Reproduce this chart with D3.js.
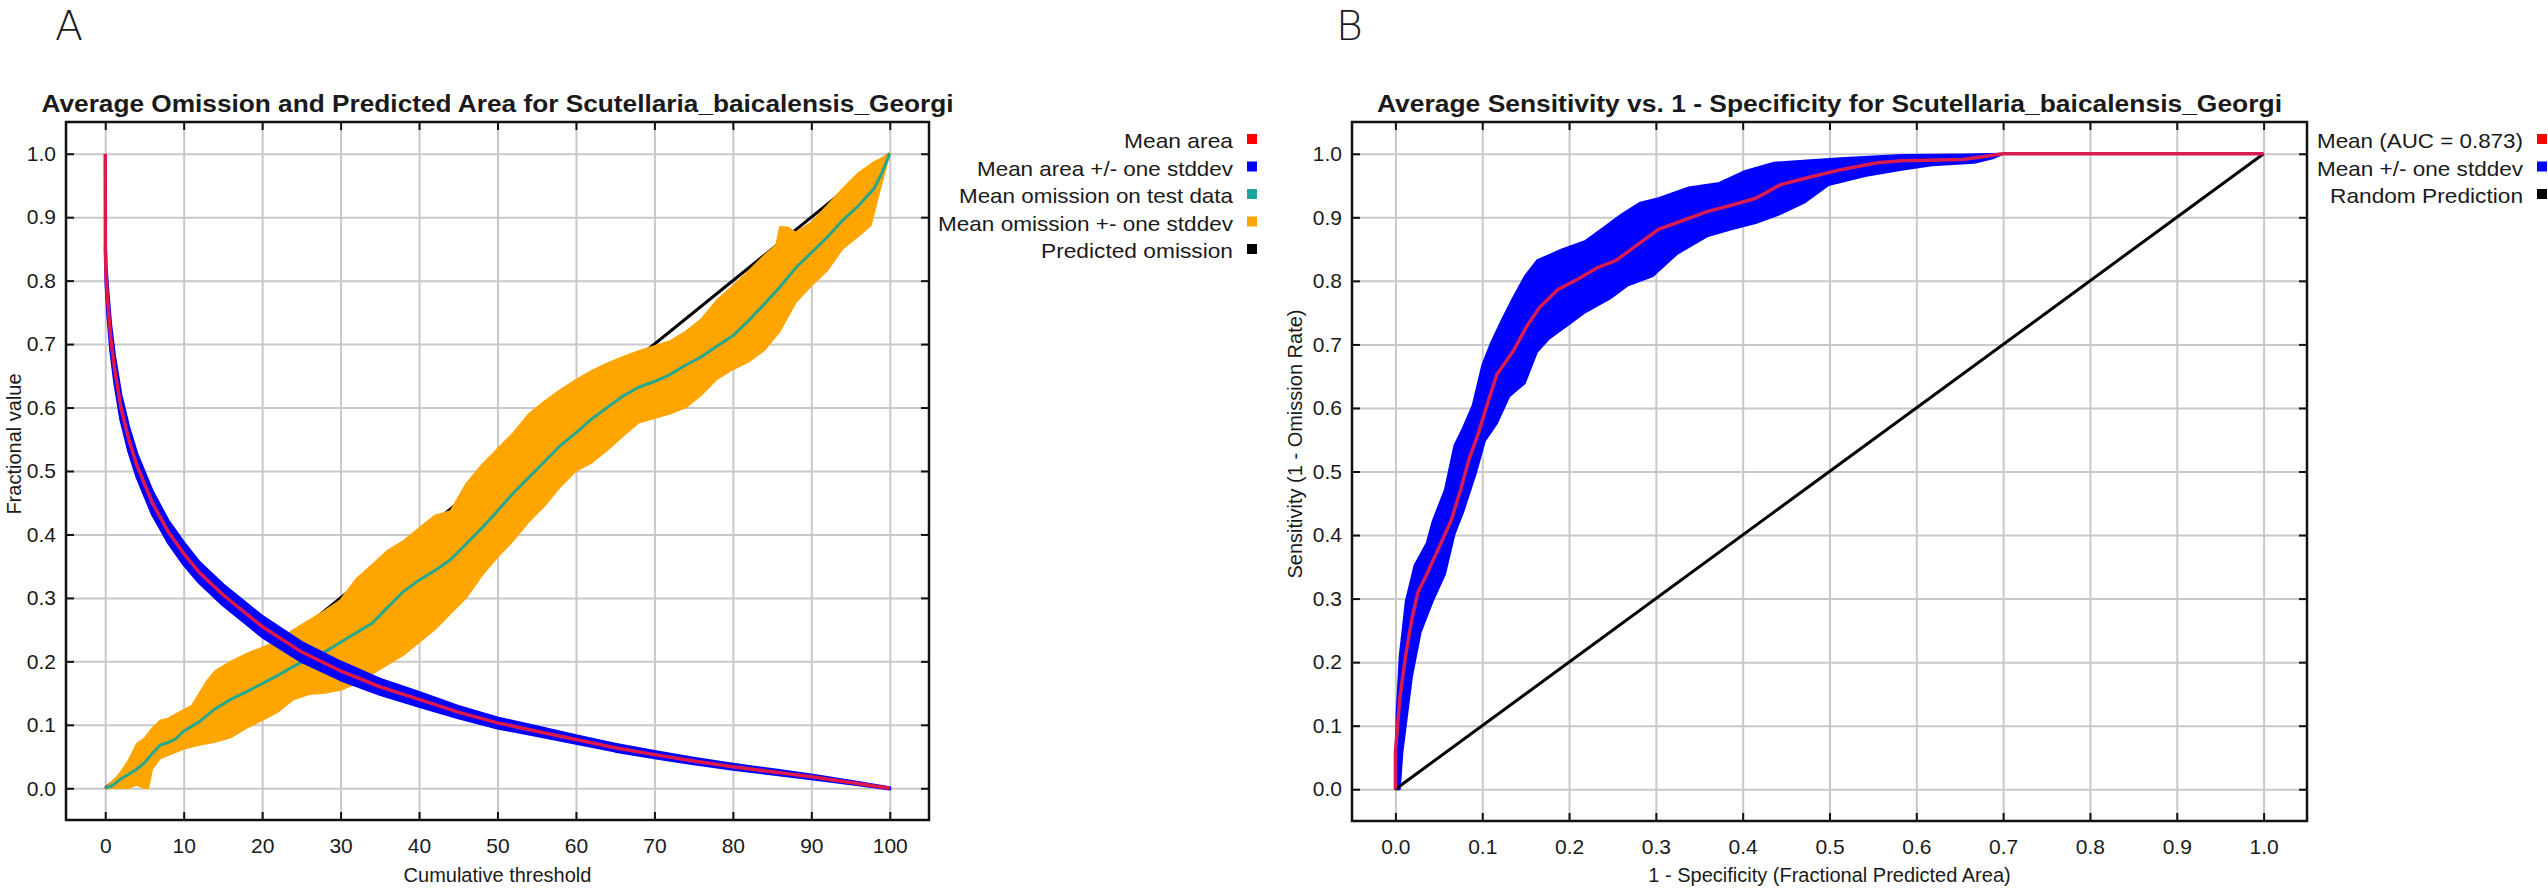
<!DOCTYPE html>
<html><head><meta charset="utf-8">
<script src="https://cdn.jsdelivr.net/npm/d3@7"></script>
<style>
body{margin:0;background:#fff}
svg{display:block}
text{font-family:"Liberation Sans",Arial,sans-serif;fill:#1a1a1a}
</style>
</head><body>
<svg id="c" width="2548" height="888"></svg>
<script>
// ---------- Panel A data ----------
const aXTicks = [0,10,20,30,40,50,60,70,80,90,100];
const yTicks = [0,0.1,0.2,0.3,0.4,0.5,0.6,0.7,0.8,0.9,1.0];
const bXTicks = [0,0.1,0.2,0.3,0.4,0.5,0.6,0.7,0.8,0.9,1.0];

// Mean area (red) and its stddev (blue band)
const areaX    = [0,0.02,0.1,0.3,0.7,1.2,2,3,4,5,6,8,10,12,15,20,25,30,35,40,45,50,55,60,65,70,75,80,85,90,95,100];
const areaMean = [1.0,0.85,0.81,0.77,0.71,0.66,0.6,0.55,0.51,0.48,0.45,0.405,0.37,0.34,0.305,0.255,0.215,0.185,0.16,0.14,0.12,0.103,0.09,0.077,0.064,0.053,0.043,0.034,0.026,0.018,0.009,0.0];
const areaSd   = [0,0.005,0.015,0.02,0.02,0.02,0.02,0.019,0.018,0.018,0.018,0.017,0.017,0.016,0.016,0.016,0.015,0.014,0.012,0.011,0.009,0.008,0.007,0.006,0.0055,0.005,0.0045,0.004,0.0035,0.003,0.002,0.001];

// Mean omission on test data (teal)
const omisX    = [0,1,2,3,4,5,6,7,8,9,10,12,14,16,18,20,22,24,26,28,30,32,34,36,38,40,42,44,46,48,50,52,54,56,58,60,62,64,66,68,70,72,74,76,78,80,82,84,86,88,90,92,94,96,98,99,100];
const omisMean = [0,0.005,0.015,0.022,0.03,0.04,0.055,0.068,0.072,0.078,0.09,0.105,0.125,0.14,0.152,0.165,0.178,0.192,0.205,0.215,0.23,0.245,0.26,0.285,0.31,0.328,0.343,0.36,0.385,0.41,0.437,0.465,0.49,0.515,0.54,0.56,0.582,0.6,0.618,0.632,0.641,0.652,0.667,0.68,0.697,0.713,0.737,0.763,0.79,0.82,0.844,0.868,0.895,0.918,0.945,0.97,1.0];

// Mean omission +- one stddev (orange band): upper and lower edges
const omisHiX = [0,1,2,3,4,5,6,7,8,10,11,12,13,14,16,18,20,22,24,26,28,30,32,34,36,38,40,42,44,46,48,50,52,54,56,58,60,62,64,66,68,70,72,74,76,78,80,82,84,85.5,86,87,88,90,92,94,96,98,100];
const omisHiY = [0,0.012,0.026,0.045,0.07,0.079,0.095,0.107,0.11,0.124,0.13,0.15,0.17,0.185,0.2,0.212,0.222,0.232,0.25,0.265,0.28,0.297,0.33,0.352,0.375,0.39,0.41,0.43,0.437,0.48,0.51,0.535,0.56,0.59,0.61,0.628,0.644,0.658,0.67,0.68,0.689,0.697,0.705,0.72,0.74,0.77,0.792,0.815,0.84,0.856,0.885,0.884,0.876,0.892,0.918,0.945,0.97,0.987,1.0];
const omisLoX = [0,2,3,4,5,5.5,6,7,8,10,12,14,16,18,20,22,24,26,28,30,32,34,36,38,40,42,44,46,48,50,52,54,56,58,60,62,64,66,68,70,72,74,76,78,80,82,84,86,88,90,92,94,96,97.6,98.8,100];
const omisLoY = [0,0.0,0.0,0.005,0.0,0.0,0.03,0.047,0.052,0.062,0.068,0.073,0.08,0.095,0.107,0.12,0.14,0.148,0.15,0.155,0.165,0.18,0.195,0.21,0.23,0.25,0.275,0.3,0.335,0.364,0.39,0.42,0.445,0.475,0.5,0.513,0.533,0.555,0.576,0.583,0.59,0.6,0.62,0.645,0.66,0.672,0.69,0.72,0.765,0.792,0.815,0.85,0.87,0.887,0.945,1.0];

// Predicted omission (black diagonal)
const predX = [0,100];
const predY = [0,1];

// ---------- Panel B data ----------
const rocX = [0,0,0.005,0.012,0.019,0.026,0.036,0.05,0.064,0.075,0.085,0.096,0.107,0.117,0.135,0.152,0.166,0.187,0.212,0.233,0.254,0.275,0.303,0.331,0.359,0.387,0.415,0.443,0.471,0.513,0.555,0.583,0.653,0.674,0.7,1.0];
const rocY = [0,0.058,0.142,0.212,0.268,0.31,0.338,0.38,0.422,0.471,0.52,0.562,0.611,0.653,0.688,0.73,0.758,0.786,0.804,0.821,0.832,0.853,0.881,0.895,0.909,0.919,0.93,0.951,0.961,0.975,0.986,0.989,0.991,0.995,1.0,1.0];
const rocHiX = [0,0.0014,0.005,0.012,0.022,0.036,0.043,0.057,0.068,0.078,0.089,0.1,0.11,0.121,0.135,0.149,0.163,0.191,0.219,0.24,0.261,0.282,0.303,0.338,0.373,0.401,0.436,0.478,0.513,0.583,0.653,0.7];
const rocHiY = [0,0.12,0.21,0.296,0.352,0.387,0.422,0.471,0.541,0.569,0.604,0.667,0.702,0.734,0.772,0.807,0.832,0.849,0.863,0.884,0.905,0.923,0.93,0.947,0.954,0.972,0.986,0.99,0.993,0.998,0.999,1.0];
const rocLoX = [0,0.005,0.008,0.019,0.029,0.043,0.057,0.068,0.078,0.093,0.103,0.117,0.131,0.149,0.163,0.177,0.198,0.219,0.247,0.268,0.296,0.324,0.359,0.387,0.415,0.443,0.471,0.499,0.541,0.583,0.618,0.667,0.688,0.7];
const rocLoY = [0,0.0,0.058,0.177,0.247,0.296,0.338,0.401,0.436,0.499,0.548,0.576,0.618,0.639,0.688,0.709,0.73,0.751,0.772,0.793,0.807,0.842,0.87,0.881,0.891,0.905,0.923,0.951,0.965,0.975,0.982,0.986,0.993,1.0];
const randX = [0,1];
const randY = [0,1];

// ---------- Text ----------
const titleA = "Average Omission and Predicted Area for Scutellaria_baicalensis_Georgi";
const titleB = "Average Sensitivity vs. 1 - Specificity for Scutellaria_baicalensis_Georgi";
const legendA = ["Mean area","Mean area +/- one stddev","Mean omission on test data","Mean omission +- one stddev","Predicted omission"];
const legendAColors = ["#ff0000","#0000ff","#1fa5a0","#ffa500","#000000"];
const legendALen = [109,256,274,295,192];
const legendB = ["Mean (AUC = 0.873)","Mean +/- one stddev","Random Prediction"];
const legendBColors = ["#ff0000","#0000ff","#000000"];
const legendBLen = [206,206,193];

const svg = d3.select("#c");
const zip = (xs, ys) => xs.map((v,i)=>[v, ys[i]]);

function panel(o){
  const g = svg.append("g");
  const x = d3.scaleLinear().domain(o.xDomain).range([o.left, o.right]);
  const y = d3.scaleLinear().domain([-0.05, 1.05]).range([o.bottom, o.top]);
  const h = o.bottom - o.top, w = o.right - o.left;
  // grid
  const gx = g.append("g").attr("transform",`translate(0,${o.bottom})`)
    .call(d3.axisBottom(x).tickValues(o.xTicks).tickSize(-h).tickFormat(""));
  const gy = g.append("g").attr("transform",`translate(${o.left},0)`)
    .call(d3.axisLeft(y).tickValues(yTicks).tickSize(-w).tickFormat(""));
  [gx,gy].forEach(s=>{ s.select(".domain").remove(); s.selectAll("line").attr("stroke","#c8c8c8").attr("stroke-width",2); });
  // data
  o.draw(g.append("g"), x, y);
  // frame
  g.append("rect").attr("x",o.left).attr("y",o.top).attr("width",w).attr("height",h)
    .attr("fill","none").attr("stroke","#111").attr("stroke-width",2.5);
  // axes with inward ticks
  const ab = g.append("g").attr("transform",`translate(0,${o.bottom})`)
    .call(d3.axisBottom(x).tickValues(o.xTicks).tickSizeInner(-8).tickSizeOuter(0).tickPadding(18).tickFormat(o.xFmt));
  const al = g.append("g").attr("transform",`translate(${o.left},0)`)
    .call(d3.axisLeft(y).tickValues(yTicks).tickSizeInner(-8).tickSizeOuter(0).tickPadding(10).tickFormat(d3.format(".1f")));
  const at = g.append("g").attr("transform",`translate(0,${o.top})`)
    .call(d3.axisTop(x).tickValues(o.xTicks).tickSizeInner(-8).tickSizeOuter(0).tickFormat(""));
  const ar = g.append("g").attr("transform",`translate(${o.right},0)`)
    .call(d3.axisRight(y).tickValues(yTicks).tickSizeInner(-8).tickSizeOuter(0).tickFormat(""));
  [ab,al,at,ar].forEach(s=>{
    s.select(".domain").remove();
    s.selectAll("line").attr("stroke","#111").attr("stroke-width",2);
    s.selectAll("text").style("font-size","21px").style("font-family","'Liberation Sans',Arial,sans-serif").attr("fill","#1a1a1a");
  });
  // title
  g.append("text").attr("x",(o.left+o.right)/2).attr("y",112).attr("text-anchor","middle")
    .style("font-size","23px").style("font-weight","bold")
    .attr("textLength",o.titleLen).attr("lengthAdjust","spacingAndGlyphs").text(o.title);
  // axis titles
  g.append("text").attr("x",(o.left+o.right)/2 + o.xTitleShift).attr("y",882).attr("text-anchor","middle")
    .style("font-size","20px").text(o.xTitle);
  g.append("text").attr("transform",`translate(${o.yTitleX},444) rotate(-90)`).attr("text-anchor","middle")
    .style("font-size","20px").text(o.yTitle);
  // legend
  o.legend.forEach((t,i)=>{
    const by = 148 + i*27.5;
    g.append("text").attr("x",o.legTextX).attr("y",by).attr("text-anchor","end")
      .style("font-size","21px").attr("textLength",o.legLen[i]).attr("lengthAdjust","spacingAndGlyphs").text(t);
    g.append("rect").attr("x",o.legTextX+14).attr("y",by-14).attr("width",10).attr("height",10).attr("fill",o.legColors[i]);
  });
  // panel letter
  g.append("text").attr("x",o.letterX).attr("y",40).style("font-size","41px").style("font-weight","200")
    .style("font-family","'DejaVu Sans','Liberation Sans',sans-serif").attr("fill","#111").text(o.letter);
}

panel({
  left:66, right:929, top:122, bottom:820,
  xDomain:[-5,105], xTicks:aXTicks, xFmt:d3.format("d"),
  title:titleA, titleLen:912,
  xTitle:"Cumulative threshold", xTitleShift:0,
  yTitle:"Fractional value", yTitleX:21,
  legend:legendA, legColors:legendAColors, legLen:legendALen, legTextX:1233,
  letter:"A", letterX:55,
  draw:(g,x,y)=>{
    const line = d3.line().x(d=>x(d[0])).y(d=>y(d[1]));
    // predicted omission
    g.append("path").attr("d",line(zip(predX,predY))).attr("fill","none").attr("stroke","#000").attr("stroke-width",3);
    // orange band
    const poly = zip(omisHiX,omisHiY).concat(zip(omisLoX,omisLoY).reverse());
    g.append("path").attr("d",line(poly)+"Z").attr("fill","#ffa500").attr("stroke","#ffa500").attr("stroke-width",1.5);
    // teal mean omission
    g.append("path").attr("d",line(zip(omisX,omisMean))).attr("fill","none").attr("stroke","#26a88f").attr("stroke-width",3);
    // blue band
    const bandPts = areaX.map((v,i)=>({x:v,m:areaMean[i],s:areaSd[i]})).slice(1);
    const area = d3.area().x(d=>x(d.x)).y0(d=>y(d.m-d.s)).y1(d=>y(d.m+d.s));
    g.append("path").attr("d",area(bandPts)).attr("fill","#0000ff").attr("stroke","#0000ff").attr("stroke-width",3).attr("stroke-linejoin","round");
    // red mean area
    g.append("path").attr("d",line(zip(areaX,areaMean))).attr("fill","none").attr("stroke","#e0174a").attr("stroke-width",3.5);
  }
});

panel({
  left:1352, right:2307, top:122, bottom:821,
  xDomain:[-0.05,1.05], xTicks:bXTicks, xFmt:d3.format(".1f"),
  title:titleB, titleLen:905,
  xTitle:"1 - Specificity (Fractional Predicted Area)", xTitleShift:0,
  yTitle:"Sensitivity (1 - Omission Rate)", yTitleX:1302,
  legend:legendB, legColors:legendBColors, legLen:legendBLen, legTextX:2523,
  letter:"B", letterX:1336,
  draw:(g,x,y)=>{
    const line = d3.line().x(d=>x(d[0])).y(d=>y(d[1]));
    const poly = zip(rocHiX,rocHiY).concat(zip(rocLoX,rocLoY).reverse());
    g.append("path").attr("d",line(poly)+"Z").attr("fill","#0000ff").attr("stroke","#0000ff").attr("stroke-width",2).attr("stroke-linejoin","round");
    g.append("path").attr("d",line(zip(randX,randY))).attr("fill","none").attr("stroke","#000").attr("stroke-width",3);
    g.append("path").attr("d",line(zip(rocX,rocY))).attr("fill","none").attr("stroke","#d81c50").attr("stroke-width",3.5);
  }
});
</script>
</body></html>
